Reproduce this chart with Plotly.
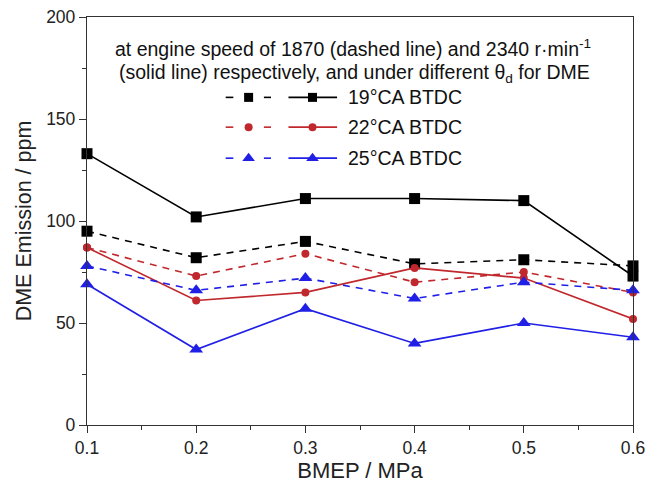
import plotly.graph_objects as go

bmep = [0.1, 0.2, 0.3, 0.4, 0.5, 0.6]

# 1870 r/min (dashed) and 2340 r/min (solid)
dme_19_1870 = [95, 82, 90, 79, 81, 78]
dme_19_2340 = [133, 102, 111, 111, 110, 73]
dme_22_1870 = [87, 73, 84, 70, 75, 65]
dme_22_2340 = [87, 61, 65, 77, 72, 52]
dme_25_1870 = [78, 66, 72, 62, 70, 66]
dme_25_2340 = [69, 37, 57, 40, 50, 43]

labels = ["19°CA BTDC", "22°CA BTDC", "25°CA BTDC"]
colors = ["#000000", "#c0282d", "#1f1fe6"]
symbols = ["square", "circle", "triangle-up"]
msizes = [11, 8, 12]

x_ticks = [0.1, 0.2, 0.3, 0.4, 0.5, 0.6]
y_ticks = [0, 50, 100, 150, 200]

FONT = "Liberation Sans, Arial, sans-serif"

fig = go.Figure()

series = [
    (dme_19_1870, dme_19_2340),
    (dme_22_1870, dme_22_2340),
    (dme_25_1870, dme_25_2340),
]
for i, (dashed, solid) in enumerate(series):
    fig.add_trace(go.Scatter(
        x=bmep, y=dashed, mode="lines+markers",
        line=dict(color=colors[i], width=1.6, dash="7px,6px"),
        marker=dict(symbol=symbols[i], size=msizes[i], color=colors[i]),
        showlegend=False, cliponaxis=False))
    fig.add_trace(go.Scatter(
        x=bmep, y=solid, mode="lines+markers",
        line=dict(color=colors[i], width=1.6),
        marker=dict(symbol=symbols[i], size=msizes[i], color=colors[i]),
        showlegend=False, cliponaxis=False))

# legend samples on an overlay axis (0..1 in both directions)
leg_y = [0.803, 0.730, 0.654]
leg_ms = [9, 8, 11]
for i in range(3):
    for seg in ([0.254, 0.268], [0.324, 0.337]):
        fig.add_trace(go.Scatter(
            x=seg, y=[leg_y[i], leg_y[i]], mode="lines",
            line=dict(color=colors[i], width=1.6),
            xaxis="x2", yaxis="y2", showlegend=False, hoverinfo="skip"))
    fig.add_trace(go.Scatter(
        x=[0.296], y=[leg_y[i]], mode="markers",
        marker=dict(symbol=symbols[i], size=leg_ms[i], color=colors[i]),
        xaxis="x2", yaxis="y2", showlegend=False, hoverinfo="skip"))
    fig.add_trace(go.Scatter(
        x=[0.369, 0.458], y=[leg_y[i], leg_y[i]], mode="lines",
        line=dict(color=colors[i], width=1.6),
        xaxis="x2", yaxis="y2", showlegend=False, hoverinfo="skip"))
    fig.add_trace(go.Scatter(
        x=[0.413], y=[leg_y[i]], mode="markers",
        marker=dict(symbol=symbols[i], size=leg_ms[i], color=colors[i]),
        xaxis="x2", yaxis="y2", showlegend=False, hoverinfo="skip"))
    fig.add_annotation(
        x=0.475, y=leg_y[i], xref="x2", yref="y2", xanchor="left",
        yanchor="middle", showarrow=False, text=labels[i],
        font=dict(size=19.5, color="#111", family=FONT))

fig.add_annotation(
    x=0.487, y=0.925, xref="x2", yref="y2", xanchor="center",
    yanchor="middle", showarrow=False,
    text="at engine speed of 1870 (dashed line) and 2340 r·min<sup>-1</sup>",
    font=dict(size=19.5, color="#111", family=FONT))
fig.add_annotation(
    x=0.49, y=0.862, xref="x2", yref="y2", xanchor="center",
    yanchor="middle", showarrow=False,
    text="(solid line) respectively, and under different θ<sub>d</sub> for DME",
    font=dict(size=19.5, color="#111", family=FONT))

axis_common = dict(
    showline=True, linecolor="#333", linewidth=1.3, mirror=True,
    ticks="outside", ticklen=7, tickcolor="#333", tickwidth=1.2,
    showgrid=False, zeroline=False, automargin=False,
    tickfont=dict(size=17.5, color="#222", family=FONT),
)

fig.update_layout(
    width=655, height=487,
    margin=dict(l=87, r=22, t=17, b=62),
    paper_bgcolor="white", plot_bgcolor="white",
    font=dict(family=FONT, color="#111"),
    xaxis=dict(range=[0.1, 0.6], tickvals=x_ticks,
               ticktext=[f"{v:.1f}" for v in x_ticks],
               minor=dict(ticks="outside", ticklen=4, tickcolor="#333",
                          dtick=0.05, tick0=0.1),
               title=dict(text="BMEP / MPa", font=dict(size=22, color="#222"),
                          standoff=4),
               **axis_common),
    yaxis=dict(range=[0, 200], tickvals=y_ticks,
               minor=dict(ticks="outside", ticklen=4, tickcolor="#333",
                          dtick=25, tick0=0),
               title=dict(text="DME Emission / ppm",
                          font=dict(size=21.5, color="#222"), standoff=8),
               **axis_common),
    xaxis2=dict(range=[0, 1], overlaying="x", visible=False, fixedrange=True),
    yaxis2=dict(range=[0, 1], overlaying="y", visible=False, fixedrange=True),
)

fig.write_html("out.html")
